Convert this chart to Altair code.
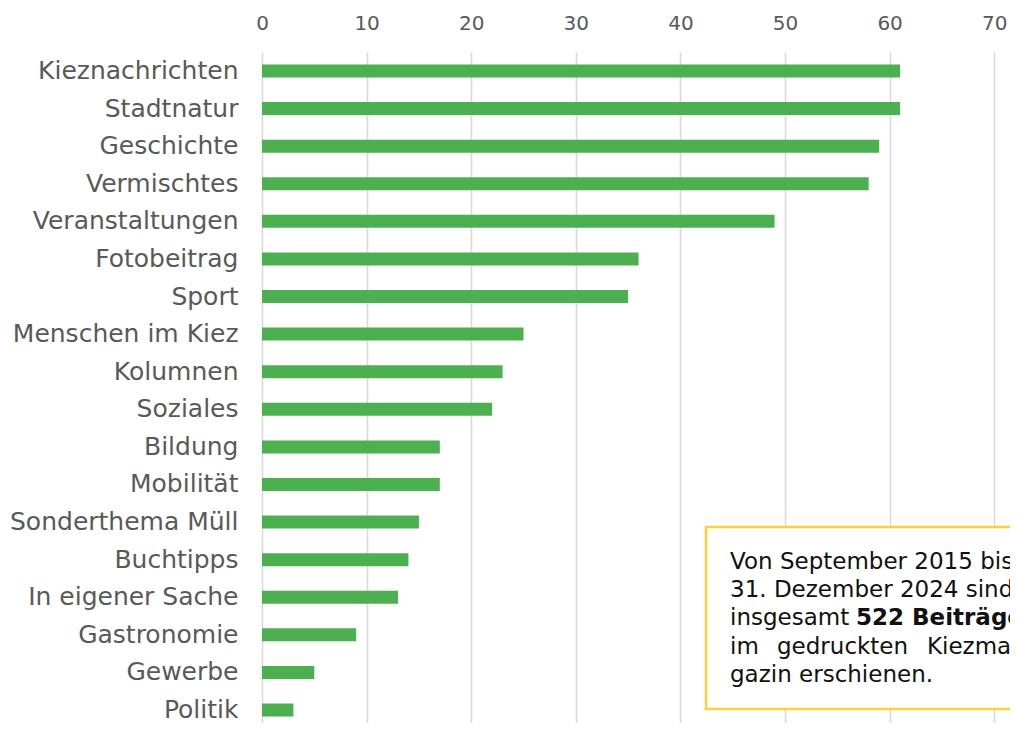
import altair as alt
import pandas as pd

categories = [
    "Kieznachrichten", "Stadtnatur", "Geschichte", "Vermischtes", "Veranstaltungen",
    "Fotobeitrag", "Sport", "Menschen im Kiez", "Kolumnen", "Soziales", "Bildung",
    "Mobilität", "Sonderthema Müll", "Buchtipps", "In eigener Sache", "Gastronomie",
    "Gewerbe", "Politik",
]
values = [61, 61, 59, 58, 49, 36, 35, 25, 23, 22, 17, 17, 15, 14, 13, 9, 5, 3]
tick_values = [0, 10, 20, 30, 40, 50, 60, 70]

note_line1 = "Von September 2015 bis"
note_line2 = "31. Dezember 2024 sind"
note_line3a = "insgesamt"
note_line3b = "522 Beiträge"
note_line4 = ["im", "gedruckten", "Kiezma-"]
note_line5 = "gazin erschienen."

df = pd.DataFrame({"Kategorie": categories, "Beiträge": values})

FONT = "DejaVu Sans"
W, H = 748, 671

bars = alt.Chart(df).mark_bar(color="#4CAF50", size=13).encode(
    x=alt.X(
        "Beiträge:Q",
        scale=alt.Scale(domain=[0, W / 10.46], nice=False, zero=True),
        axis=alt.Axis(
            orient="top", values=tick_values, title=None, domain=False, ticks=False,
            tickSize=0, labelPadding=19, labelFontSize=20, labelColor="#595959",
            labelFont=FONT, labelFlush=False, labelOverlap=False,
            grid=True, gridColor="#d9d9d9", gridWidth=1.6,
        ),
    ),
    y=alt.Y(
        "Kategorie:N",
        sort=categories,
        scale=alt.Scale(range=[0, 677], paddingInner=0, paddingOuter=0.005),
        axis=alt.Axis(
            title=None, domain=False, ticks=False, tickSize=0, labelPadding=24,
            labelFontSize=25, labelColor="#595959", labelFont=FONT, grid=False,
            labelLimit=400,
        ),
    ),
)

one = pd.DataFrame({"k": [0]})

box = alt.Chart(one).mark_rect(
    fill="white", stroke="#FFD03A", strokeWidth=2.5, clip=True
).encode(
    x=alt.value(444), x2=alt.value(820), y=alt.value(475), y2=alt.value(657)
)


def txt(s, x, y, bold=False):
    return alt.Chart(one).mark_text(
        font=FONT, fontSize=23, color="#111111", align="left", baseline="middle",
        fontWeight="bold" if bold else "normal", clip=True, text=s,
    ).encode(x=alt.value(x), y=alt.value(y))


texts = [
    txt(note_line1, 468, 510),
    txt(note_line2, 468, 538),
    txt(note_line3a, 468, 566),
    txt(note_line3b, 594, 566, bold=True),
    txt(note_line4[0], 468, 595),
    txt(note_line4[1], 515, 595),
    txt(note_line4[2], 665, 595),
    txt(note_line5, 468, 623),
]

chart = alt.layer(bars, box, *texts).properties(
    width=W, height=H,
    autosize=alt.AutoSizeParams(type="none"),
    padding={"left": 254, "top": 44, "right": 0, "bottom": 0},
).configure(background="white").configure_view(stroke="transparent", strokeWidth=0)

chart.save("out.html", embed_options={"renderer": "svg", "actions": False})
